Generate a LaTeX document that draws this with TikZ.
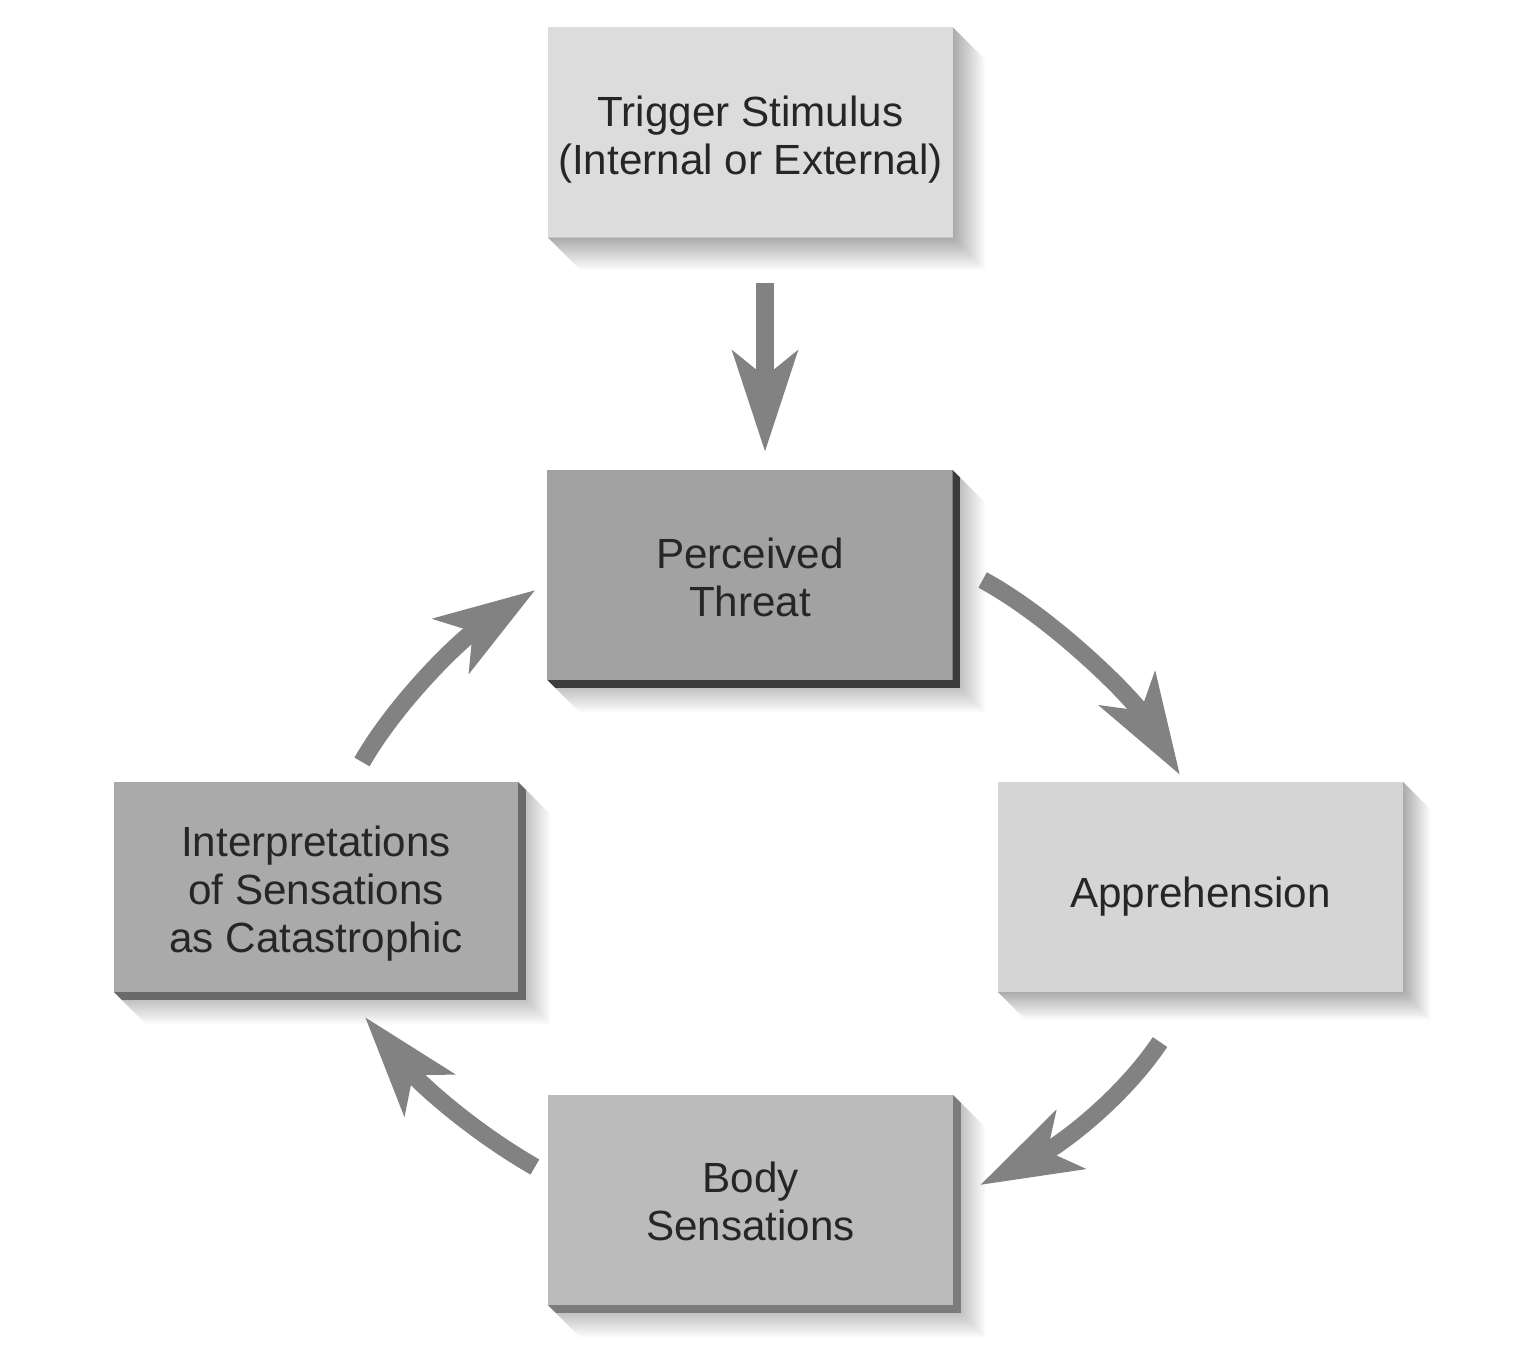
\documentclass[tikz,border=0pt]{standalone}
\usepackage{fontspec}
\setmainfont{Liberation Sans}
\usetikzlibrary{arrows.meta,calc}
\definecolor{arrowgray}{HTML}{828282}
\definecolor{trigface}{HTML}{DCDCDC}
\definecolor{percface}{HTML}{A2A2A2}
\definecolor{apprface}{HTML}{D5D5D5}
\definecolor{bodyface}{HTML}{BBBBBB}
\definecolor{interface}{HTML}{AAAAAA}
\definecolor{percedge}{HTML}{3C3C3C}
\definecolor{bodyedge}{HTML}{7C7C7C}
\definecolor{interedge}{HTML}{6A6A6A}
\definecolor{sidegray}{HTML}{ABABAB}
\definecolor{shadowgray}{HTML}{C2C2C2}
% #1 node, #2 edge colour, #3 edge depth, #4 shadow colour, #5 shadow depth
\newcommand{\blockshade}[5]{%
  \fill[#2] (#1.north east) -- ($(#1.north east)+(#3,#3)$) -- ($(#1.south east)+(#3,#3)$)
     -- ($(#1.south west)+(#3,#3)$) -- (#1.south west) -- (#1.south east) -- cycle;
  \shade[left color=#4,right color=white] ($(#1.north east)+(#3,#3)$) -- ($(#1.north east)+(#5,#5)$)
     -- ($(#1.south east)+(#5,#5)$) -- ($(#1.south east)+(#3,#3)$) -- cycle;
  \shade[top color=#4,bottom color=white] ($(#1.south west)+(#3,#3)$) -- ($(#1.south east)+(#3,#3)$)
     -- ($(#1.south east)+(#5,#5)$) -- ($(#1.south west)+(#5,#5)$) -- cycle;
}
\newcommand{\shifttext}[2]{\raisebox{-#1cm}[\height][\depth]{\begin{tabular}{@{}c@{}}#2\end{tabular}}}
\begin{document}
\begin{tikzpicture}[x=0.01cm,y=-0.01cm,
  blockbox/.style={minimum width=4.05cm,minimum height=2.1cm,inner sep=0pt,outer sep=0pt,
    align=center,text=black!85,font=\fontsize{12}{13.66}\selectfont},
  flow/.style={draw=arrowgray,line width=0.175cm,
    -{Stealth[length=1cm,width=0.64cm,inset=0.25cm]}}]
\fill[white] (0,0) rectangle (1533,1361);
\useasboundingbox (0,0) rectangle (1533,1361);

\node[blockbox,fill=trigface] (trig) at (750.5,132.5) {\shifttext{0.085}{Trigger Stimulus\\(Internal or External)}};
\node[blockbox,fill=percface] (perc) at (750,575) {\shifttext{0.08}{Perceived\\Threat}};
\node[blockbox,fill=apprface] (appr) at (1200.5,887) {\shifttext{0.11}{Apprehension}};
\node[blockbox,fill=bodyface] (body) at (750.5,1200) {\shifttext{0.065}{Body\\Sensations}};
\node[blockbox,fill=interface,minimum width=4.04cm] (interp) at (316,887) {\shifttext{0.08}{Interpretations\\of Sensations\\as Catastrophic}};

\blockshade{trig}{sidegray}{0}{sidegray}{33}
\blockshade{perc}{percedge}{8}{shadowgray}{33}
\blockshade{appr}{sidegray}{0}{sidegray}{28}
\blockshade{body}{bodyedge}{8}{shadowgray}{33}
\blockshade{interp}{interedge}{8}{shadowgray}{33}

\draw[flow] ($(trig.south)+(14.5,45)$) -- ($(perc.north)+(15,-18)$);
\draw[flow] ($(perc.east)+(30,5)$) .. controls (1053,618) and (1133,698) .. ($(appr.north)+(-20.5,-7)$);
\draw[flow] ($(appr.south)+(-40.5,50)$) .. controls (1121,1100) and (1060,1145) .. ($(body.east)+(27,-15)$);
\draw[flow] ($(body.west)+(-13,-33)$) .. controls (474,1132) and (422,1086) .. ($(interp.south)+(49,25)$);
\draw[flow] ($(interp.north)+(46,-20)$) .. controls (397,701) and (460,640) .. ($(perc.west)+(-12,15)$);
\end{tikzpicture}
\end{document}
